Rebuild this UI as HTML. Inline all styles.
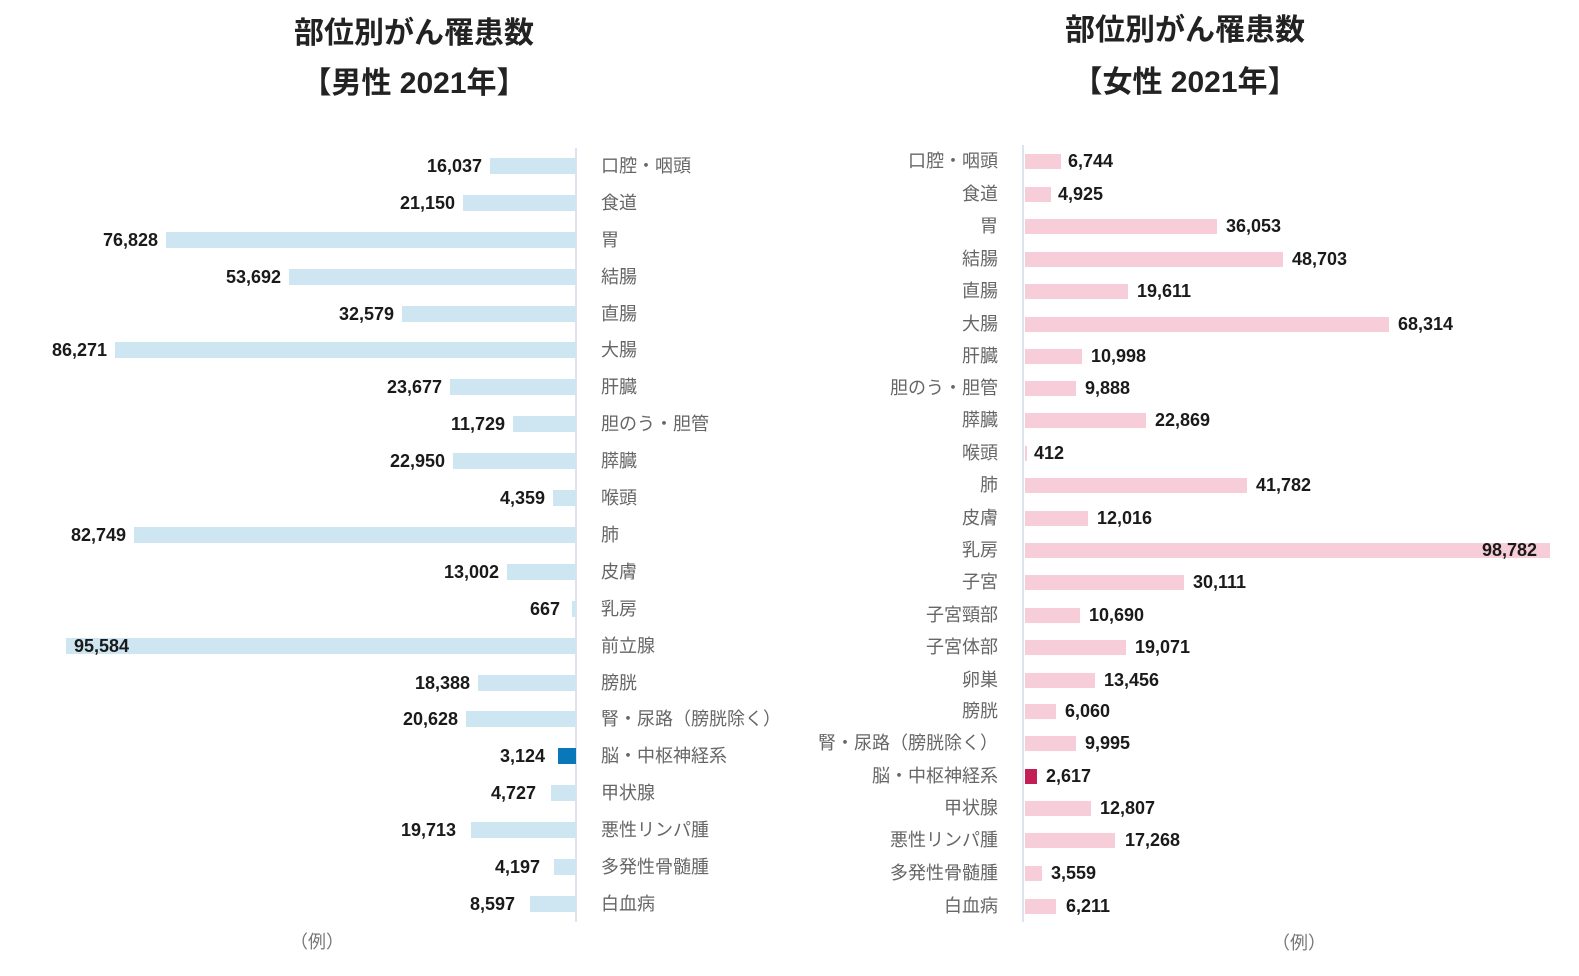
<!DOCTYPE html>
<html><head><meta charset="utf-8"><style>
body{margin:0;width:1579px;height:976px;background:#fff;position:relative;overflow:hidden;font-family:"Liberation Sans","Noto Sans CJK JP",sans-serif}
div{position:absolute;white-space:nowrap}
.t{font-size:30px;font-weight:bold;color:#222;text-align:center;width:500px}
.b{height:16px;background:#cde6f2}
.p{height:15px;background:#f6cdd9}
.v{font-size:18px;font-weight:bold;color:#1a1a1a;line-height:22px}
.vl{width:120px;text-align:right}
.c{font-size:18px;color:#666;line-height:22px}
.cr{width:300px;text-align:right;left:698px}
.ax{width:2px;background:#dde3ee}
</style></head><body>
<div class="t" style="left:164px;top:8px">部位別がん罹患数</div>
<div class="t" style="left:164px;top:58px">【男性 2021年】</div>
<div class="t" style="left:935px;top:5px">部位別がん罹患数</div>
<div class="t" style="left:935px;top:57px">【女性 2021年】</div>
<div class="ax" style="left:575px;top:148px;height:774px"></div>
<div class="ax" style="left:1022px;top:145px;height:777px"></div>

<!-- left -->
<div class="b" style="left:490px;top:158px;width:86px"></div><div class="v vl" style="left:362px;top:155px">16,037</div><div class="c" style="left:601px;top:155px">口腔・咽頭</div>
<div class="b" style="left:463px;top:195px;width:113px"></div><div class="v vl" style="left:335px;top:192px">21,150</div><div class="c" style="left:601px;top:192px">食道</div>
<div class="b" style="left:166px;top:232px;width:410px"></div><div class="v vl" style="left:38px;top:229px">76,828</div><div class="c" style="left:601px;top:229px">胃</div>
<div class="b" style="left:289px;top:269px;width:287px"></div><div class="v vl" style="left:161px;top:266px">53,692</div><div class="c" style="left:601px;top:266px">結腸</div>
<div class="b" style="left:402px;top:306px;width:174px"></div><div class="v vl" style="left:274px;top:303px">32,579</div><div class="c" style="left:601px;top:303px">直腸</div>
<div class="b" style="left:115px;top:342px;width:461px"></div><div class="v vl" style="left:-13px;top:339px">86,271</div><div class="c" style="left:601px;top:339px">大腸</div>
<div class="b" style="left:450px;top:379px;width:126px"></div><div class="v vl" style="left:322px;top:376px">23,677</div><div class="c" style="left:601px;top:376px">肝臓</div>
<div class="b" style="left:513px;top:416px;width:63px"></div><div class="v vl" style="left:385px;top:413px">11,729</div><div class="c" style="left:601px;top:413px">胆のう・胆管</div>
<div class="b" style="left:453px;top:453px;width:123px"></div><div class="v vl" style="left:325px;top:450px">22,950</div><div class="c" style="left:601px;top:450px">膵臓</div>
<div class="b" style="left:553px;top:490px;width:23px"></div><div class="v vl" style="left:425px;top:487px">4,359</div><div class="c" style="left:601px;top:487px">喉頭</div>
<div class="b" style="left:134px;top:527px;width:442px"></div><div class="v vl" style="left:6px;top:524px">82,749</div><div class="c" style="left:601px;top:524px">肺</div>
<div class="b" style="left:507px;top:564px;width:69px"></div><div class="v vl" style="left:379px;top:561px">13,002</div><div class="c" style="left:601px;top:561px">皮膚</div>
<div class="b" style="left:572px;top:601px;width:4px"></div><div class="v vl" style="left:440px;top:598px">667</div><div class="c" style="left:601px;top:598px">乳房</div>
<div class="b" style="left:66px;top:638px;width:510px"></div><div class="v" style="left:74px;top:635px">95,584</div><div class="c" style="left:601px;top:635px">前立腺</div>
<div class="b" style="left:478px;top:675px;width:98px"></div><div class="v vl" style="left:350px;top:672px">18,388</div><div class="c" style="left:601px;top:672px">膀胱</div>
<div class="b" style="left:466px;top:711px;width:110px"></div><div class="v vl" style="left:338px;top:708px">20,628</div><div class="c" style="left:601px;top:708px;width:170px;overflow:hidden">腎・尿路（膀胱除く）</div>
<div class="b" style="left:558px;top:748px;width:18px;background:#0a78b8"></div><div class="v vl" style="left:425px;top:745px">3,124</div><div class="c" style="left:601px;top:745px">脳・中枢神経系</div>
<div class="b" style="left:551px;top:785px;width:25px"></div><div class="v vl" style="left:416px;top:782px">4,727</div><div class="c" style="left:601px;top:782px">甲状腺</div>
<div class="b" style="left:471px;top:822px;width:105px"></div><div class="v vl" style="left:336px;top:819px">19,713</div><div class="c" style="left:601px;top:819px">悪性リンパ腫</div>
<div class="b" style="left:554px;top:859px;width:22px"></div><div class="v vl" style="left:420px;top:856px">4,197</div><div class="c" style="left:601px;top:856px">多発性骨髄腫</div>
<div class="b" style="left:530px;top:896px;width:46px"></div><div class="v vl" style="left:395px;top:893px">8,597</div><div class="c" style="left:601px;top:893px">白血病</div>
<div class="c" style="left:290px;top:931px;color:#777">（例）</div>

<!-- right -->
<div class="p" style="left:1025px;top:154px;width:36px"></div><div class="v" style="left:1068px;top:150px">6,744</div><div class="c cr" style="top:150px">口腔・咽頭</div>
<div class="p" style="left:1025px;top:187px;width:26px"></div><div class="v" style="left:1058px;top:183px">4,925</div><div class="c cr" style="top:183px">食道</div>
<div class="p" style="left:1025px;top:219px;width:192px"></div><div class="v" style="left:1226px;top:215px">36,053</div><div class="c cr" style="top:215px">胃</div>
<div class="p" style="left:1025px;top:252px;width:258px"></div><div class="v" style="left:1292px;top:248px">48,703</div><div class="c cr" style="top:248px">結腸</div>
<div class="p" style="left:1025px;top:284px;width:103px"></div><div class="v" style="left:1137px;top:280px">19,611</div><div class="c cr" style="top:280px">直腸</div>
<div class="p" style="left:1025px;top:317px;width:364px"></div><div class="v" style="left:1398px;top:313px">68,314</div><div class="c cr" style="top:313px">大腸</div>
<div class="p" style="left:1025px;top:349px;width:57px"></div><div class="v" style="left:1091px;top:345px">10,998</div><div class="c cr" style="top:345px">肝臓</div>
<div class="p" style="left:1025px;top:381px;width:51px"></div><div class="v" style="left:1085px;top:377px">9,888</div><div class="c cr" style="top:377px">胆のう・胆管</div>
<div class="p" style="left:1025px;top:413px;width:121px"></div><div class="v" style="left:1155px;top:409px">22,869</div><div class="c cr" style="top:409px">膵臓</div>
<div class="p" style="left:1025px;top:446px;width:2px"></div><div class="v" style="left:1034px;top:442px">412</div><div class="c cr" style="top:442px">喉頭</div>
<div class="p" style="left:1025px;top:478px;width:222px"></div><div class="v" style="left:1256px;top:474px">41,782</div><div class="c cr" style="top:474px">肺</div>
<div class="p" style="left:1025px;top:511px;width:63px"></div><div class="v" style="left:1097px;top:507px">12,016</div><div class="c cr" style="top:507px">皮膚</div>
<div class="p" style="left:1025px;top:543px;width:525px"></div><div class="v" style="left:1482px;top:539px">98,782</div><div class="c cr" style="top:539px">乳房</div>
<div class="p" style="left:1025px;top:575px;width:159px"></div><div class="v" style="left:1193px;top:571px">30,111</div><div class="c cr" style="top:571px">子宮</div>
<div class="p" style="left:1025px;top:608px;width:55px"></div><div class="v" style="left:1089px;top:604px">10,690</div><div class="c cr" style="top:604px">子宮頸部</div>
<div class="p" style="left:1025px;top:640px;width:101px"></div><div class="v" style="left:1135px;top:636px">19,071</div><div class="c cr" style="top:636px">子宮体部</div>
<div class="p" style="left:1025px;top:673px;width:70px"></div><div class="v" style="left:1104px;top:669px">13,456</div><div class="c cr" style="top:669px">卵巣</div>
<div class="p" style="left:1025px;top:704px;width:31px"></div><div class="v" style="left:1065px;top:700px">6,060</div><div class="c cr" style="top:700px">膀胱</div>
<div class="p" style="left:1025px;top:736px;width:51px"></div><div class="v" style="left:1085px;top:732px">9,995</div><div class="c cr" style="top:732px">腎・尿路（膀胱除く）</div>
<div class="p" style="left:1025px;top:769px;width:12px;background:#c41e56"></div><div class="v" style="left:1046px;top:765px">2,617</div><div class="c cr" style="top:765px">脳・中枢神経系</div>
<div class="p" style="left:1025px;top:801px;width:66px"></div><div class="v" style="left:1100px;top:797px">12,807</div><div class="c cr" style="top:797px">甲状腺</div>
<div class="p" style="left:1025px;top:833px;width:90px"></div><div class="v" style="left:1125px;top:829px">17,268</div><div class="c cr" style="top:829px">悪性リンパ腫</div>
<div class="p" style="left:1025px;top:866px;width:17px"></div><div class="v" style="left:1051px;top:862px">3,559</div><div class="c cr" style="top:862px">多発性骨髄腫</div>
<div class="p" style="left:1025px;top:899px;width:31px"></div><div class="v" style="left:1066px;top:895px">6,211</div><div class="c cr" style="top:895px">白血病</div>
<div class="c" style="left:1272px;top:932px;color:#777">（例）</div>
</body></html>
